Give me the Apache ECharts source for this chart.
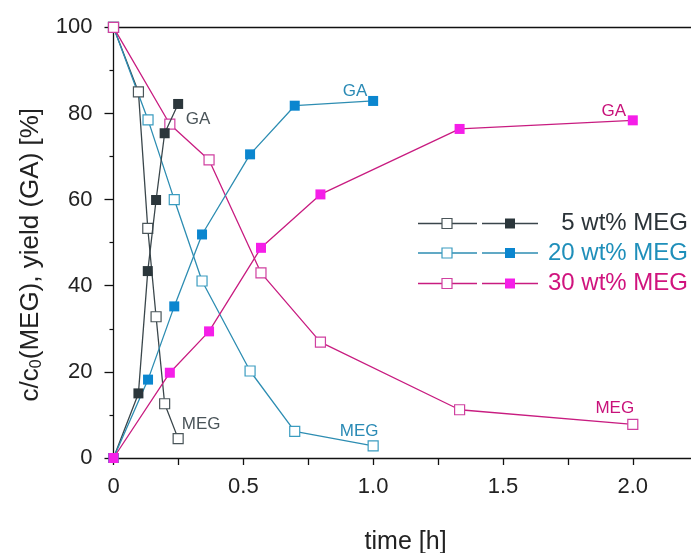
<!DOCTYPE html>
<html><head><meta charset="utf-8">
<script src="https://cdn.jsdelivr.net/npm/echarts@6/dist/echarts.min.js"></script>
<style>html,body{margin:0;padding:0;background:#fff}#c{width:691px;height:553px}</style>
</head><body><div id="c"></div>
<script>
// ---- data ----
const time5  = [0, 0.096, 0.132, 0.164, 0.197, 0.249];
const meg5   = [100, 85.0, 53.3, 32.8, 12.6, 4.5];
const ga5    = [0, 15.0, 43.4, 59.9, 75.4, 82.2];

const time20 = [0, 0.133, 0.234, 0.341, 0.526, 0.698, 1.0];
const meg20  = [100, 78.5, 60.0, 41.1, 20.2, 6.2, 2.8];
const ga20   = [0, 18.2, 35.2, 51.9, 70.5, 81.8, 82.9];

const time30 = [0, 0.217, 0.368, 0.568, 0.797, 1.333, 2.0];
const meg30  = [100, 77.5, 69.2, 43.0, 26.9, 11.2, 7.8];
const ga30   = [0, 19.8, 29.4, 48.8, 61.2, 76.4, 78.4];

const legendNames = ['5 wt% MEG', '20 wt% MEG', '30 wt% MEG'];
const xTicks = ['0', '0.5', '1.0', '1.5', '2.0'];

// ---- styles ----
const FONT = '"Liberation Sans", Arial, sans-serif';
const C = {
  dark: {line: '#3a464b', fill: '#2b363b', open: '#4a5559', text: '#2b3338', ann: '#4a5459'},
  blue: {line: '#2d8db2', fill: '#0b86cf', open: '#3a9cc0', text: '#1f8fba', ann: '#2a8ab5'},
  pink: {line: '#c81c80', fill: '#f51ee8', open: '#d040a0', text: '#d0147e', ann: '#c8127a'}
};

function pts(t, v) { return t.map((x, i) => [x, v[i]]); }
function labelled(data, text, color, off) {
  const d = data.map(p => ({value: p}));
  d[d.length - 1].label = {show: true, formatter: text, position: 'inside', offset: off,
    color: color, fontSize: 17, fontFamily: FONT, align: 'center', verticalAlign: 'middle'};
  return d;
}
function openSeries(name, data, col) {
  return {type: 'line', name, data, symbol: 'rect', symbolSize: 10, z: 3,
    lineStyle: {color: col.line, width: 1.3},
    itemStyle: {color: '#fff', borderColor: col.open, borderWidth: 1.2},
    emphasis: {disabled: true}};
}
function fillSeries(name, data, col) {
  return {type: 'line', name, data, symbol: 'rect', symbolSize: 10, z: 4,
    lineStyle: {color: col.line, width: 1.3},
    itemStyle: {color: col.fill, borderColor: col.fill, borderWidth: 0},
    emphasis: {disabled: true}};
}

const axisCol = '#111';
const chart = echarts.init(document.getElementById('c'));

// legend drawn as graphics
const legendGraphics = [];
const rowsY = [223.5, 253, 283.5];
const cols = [C.dark, C.blue, C.pink];
rowsY.forEach((y, i) => {
  const col = cols[i];
  legendGraphics.push({type: 'line', shape: {x1: 418, y1: y, x2: 477, y2: y}, style: {stroke: col.line, lineWidth: 1.3}});
  legendGraphics.push({type: 'line', shape: {x1: 482, y1: y, x2: 538, y2: y}, style: {stroke: col.line, lineWidth: 1.3}});
  legendGraphics.push({type: 'rect', shape: {x: 442, y: y - 5, width: 10, height: 10}, style: {fill: '#fff', stroke: col.open, lineWidth: 1.2}});
  legendGraphics.push({type: 'rect', shape: {x: 505, y: y - 5, width: 10, height: 10}, style: {fill: col.fill}});
  legendGraphics.push({type: 'text', x: 688, y: y, style: {text: legendNames[i], fill: col.text, font: '24px ' + FONT, textAlign: 'right', textVerticalAlign: 'middle'}});
});

function isHalf(v) { return Math.abs(v / 0.5 - Math.round(v / 0.5)) < 1e-6; }

chart.setOption({
  animation: false,
  backgroundColor: '#fff',
  grid: {left: 113.5, top: 27.3, bottom: 95, right: -6.7, containLabel: false, outerBoundsMode: 'none'},
  xAxis: [{
    type: 'value', min: 0, max: 2.25, interval: 0.25,
    axisLine: {show: true, onZero: false, lineStyle: {color: axisCol, width: 1.3}},
    axisTick: {show: true, length: 7, lineStyle: {color: axisCol, width: 1.3}},
    splitLine: {show: false},
    axisLabel: {fontSize: 22, color: '#222', fontFamily: FONT, margin: 18, showMaxLabel: false,
      formatter: v => isHalf(v) ? xTicks[Math.round(v / 0.5)] || '' : ''},
    name: 'time [h]', nameLocation: 'middle', nameGap: 72,
    nameTextStyle: {fontSize: 25, color: '#222', fontFamily: FONT}
  }, {
    type: 'value', position: 'top', min: 0, max: 2.25,
    axisLine: {show: true, onZero: false, lineStyle: {color: axisCol, width: 1.3}},
    axisTick: {show: false}, axisLabel: {show: false}, splitLine: {show: false}
  }],
  yAxis: {
    type: 'value', min: 0, max: 100, interval: 20,
    axisLine: {show: true, lineStyle: {color: axisCol, width: 1.3}},
    axisTick: {show: true, length: 9, lineStyle: {color: axisCol, width: 1.3}},
    minorTick: {show: true, splitNumber: 2, length: 4, lineStyle: {color: axisCol, width: 1.2}},
    splitLine: {show: false},
    axisLabel: {fontSize: 22, color: '#222', fontFamily: FONT, margin: 21},
    name: 'c/c{s|0}(MEG), yield (GA) [%]', nameLocation: 'middle', nameGap: 58,
    nameTextStyle: {fontSize: 26, color: '#222', fontFamily: FONT, padding: [0, 24, 0, 0],
      rich: {s: {fontSize: 16, color: '#222', fontFamily: FONT, padding: [12, 0, 0, 0]}}}
  },
  graphic: legendGraphics,
  series: [
    openSeries('MEG 5', labelled(pts(time5, meg5), 'MEG', C.dark.ann, [23, -14]), C.dark),
    fillSeries('GA 5', labelled(pts(time5, ga5), 'GA', C.dark.ann, [20, 15]), C.dark),
    openSeries('MEG 20', labelled(pts(time20, meg20), 'MEG', C.blue.ann, [-14, -15]), C.blue),
    fillSeries('GA 20', labelled(pts(time20, ga20), 'GA', C.blue.ann, [-18, -10]), C.blue),
    openSeries('MEG 30', labelled(pts(time30, meg30), 'MEG', C.pink.ann, [-18, -16]), C.pink),
    fillSeries('GA 30', labelled(pts(time30, ga30), 'GA', C.pink.ann, [-19, -9]), C.pink)
  ]
});
</script>
</body></html>
